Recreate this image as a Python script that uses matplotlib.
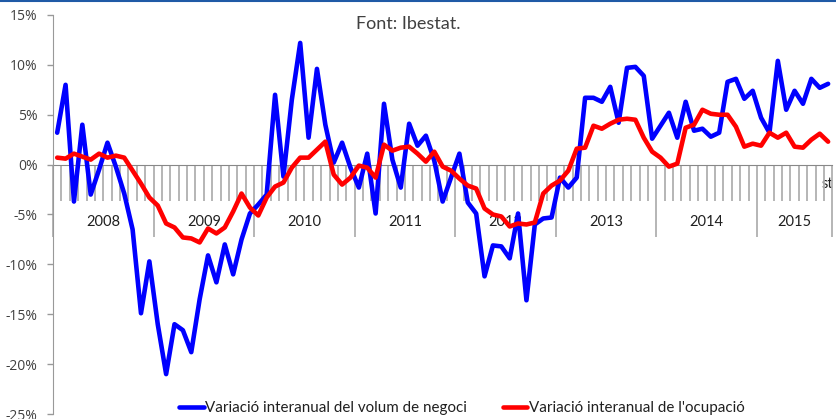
import numpy as np
import matplotlib.pyplot as plt
from matplotlib.lines import Line2D

# monthly year-on-year change (%), Jan 2008 - Sep 2015
volum_negoci = [
    3.2, 8.0, -3.7, 4.0, -3.0, -0.5, 2.2, -0.2, -2.9, -6.5, -14.9, -9.7,
    -16.0, -21.0, -16.0, -16.6, -18.8, -13.5, -9.1, -11.8, -8.0, -11.0, -7.5, -4.9,
    -4.0, -3.0, 7.0, -1.2, 6.5, 12.2, 2.7, 9.6, 4.0, 0.2, 2.2, -0.3,
    -2.3, 1.1, -4.9, 6.1, 0.5, -2.3, 4.1, 1.9, 2.9, 0.4, -3.7, -1.3,
    1.1, -3.8, -4.9, -11.2, -8.1, -8.2, -9.4, -4.9, -13.6, -6.0, -5.4, -5.3,
    -1.3, -2.3, -1.3, 6.7, 6.7, 6.3, 7.8, 4.2, 9.7, 9.8, 8.9, 2.6,
    3.9, 5.2, 2.7, 6.3, 3.4, 3.6, 2.8, 3.2, 8.3, 8.6, 6.6, 7.4,
    4.7, 3.2, 10.4, 5.5, 7.4, 6.1, 8.6, 7.7, 8.1,
]
ocupacio = [
    0.7, 0.6, 1.1, 0.8, 0.5, 1.1, 0.7, 0.9, 0.7, -0.6, -1.9, -3.3,
    -4.1, -5.9, -6.3, -7.3, -7.4, -7.8, -6.4, -6.9, -6.3, -4.7, -2.9, -4.3,
    -5.1, -3.3, -2.2, -1.8, -0.3, 0.7, 0.7, 1.5, 2.3, -1.0, -2.0, -1.3,
    -0.1, -0.3, -1.3, 2.0, 1.4, 1.7, 1.8, 1.1, 0.3, 1.3, -0.2, -0.6,
    -1.4, -2.1, -2.4, -4.4, -5.0, -5.2, -6.2, -5.9, -6.0, -5.8, -2.9, -2.1,
    -1.6, -0.6, 1.6, 1.7, 3.9, 3.6, 4.1, 4.5, 4.6, 4.5, 2.7, 1.3,
    0.7, -0.2, 0.1, 3.7, 4.0, 5.5, 5.1, 5.0, 5.0, 3.8, 1.8, 2.1,
    1.9, 3.2, 2.7, 3.2, 1.8, 1.7, 2.5, 3.1, 2.3,
]
years = ["2008", "2009", "2010", "2011", "2012", "2013", "2014", "2015"]
y_ticks = [-25, -20, -15, -10, -5, 0, 5, 10, 15]
y_labels = ["-25%", "-20%", "-15%", "-10%", "-5%", "0%", "5%", "10%", "15%"]

n = len(volum_negoci)
x = np.arange(n) + 0.5
gray_txt = "#404040"

fig = plt.figure(figsize=(8.36, 4.19), dpi=100)
ax = fig.add_axes([53 / 836, 5 / 419, (832.3 - 53) / 836, 399 / 419])

ax.plot(x, volum_negoci, color="#0000ff", lw=3.3, solid_joinstyle="round",
        solid_capstyle="round", label="Variació interanual del volum de negoci", zorder=3)
ax.plot(x, ocupacio, color="#ff0000", lw=3.3, solid_joinstyle="round",
        solid_capstyle="round", label="Variació interanual de l'ocupació", zorder=4)

ax.set_xlim(0, n)
ax.set_ylim(-25, 15)

# axes
for s in ["top", "right"]:
    ax.spines[s].set_visible(False)
ax.spines["bottom"].set_position(("data", 0))
ax.spines["bottom"].set_color("#888888")
ax.spines["left"].set_color("#999999")
ax.spines["bottom"].set_zorder(2)

year_pos = list(range(0, n, 12)) + [n]
month_pos = [i for i in range(1, n) if i % 12 != 0]
ax.set_xticks(year_pos)
ax.set_xticks(month_pos, minor=True)
ax.set_xticklabels([])
ax.tick_params(axis="x", which="major", direction="out", length=52, width=1.3, color="#b0b0b0")
ax.tick_params(axis="x", which="minor", direction="out", length=26, width=1.3, color="#b0b0b0")

ax.set_yticks(y_ticks)
ax.set_yticklabels(y_labels, fontfamily="Open Sans", fontsize=10, color=gray_txt)
ax.tick_params(axis="y", direction="out", length=4, width=1, color="#999999", pad=7)

# year labels between the long ticks
for k, yr in enumerate(years):
    start = year_pos[k]
    end = year_pos[k + 1]
    ax.text((start + end) / 2, -5.8, yr, ha="center", va="center",
            fontfamily="Lato", fontsize=10.5, color="#202020", zorder=1)
ax.text(91.7, -1.9, "st", ha="left", va="center", fontfamily="Lato",
        fontsize=10.5, color="#202020", zorder=1)

fig.text(408 / 836, 1 - 24 / 419, "Font: Ibestat.", ha="center", va="center",
         fontfamily="Lato", fontsize=13, color=gray_txt)

ax.legend(loc="center", bbox_to_anchor=(462 / 836, 1 - 408 / 419),
          bbox_transform=fig.transFigure, ncol=2, frameon=False,
          prop={"family": "Lato", "size": 10.9}, handlelength=1.6,
          handletextpad=0.1, columnspacing=2.4, labelcolor="#202020")

# thin blue rule along the top edge
fig.add_artist(Line2D([0, 1], [0.998, 0.998], transform=fig.transFigure,
                      color="#1f5aa6", lw=1.5))

fig.savefig("out.png", dpi=100)
